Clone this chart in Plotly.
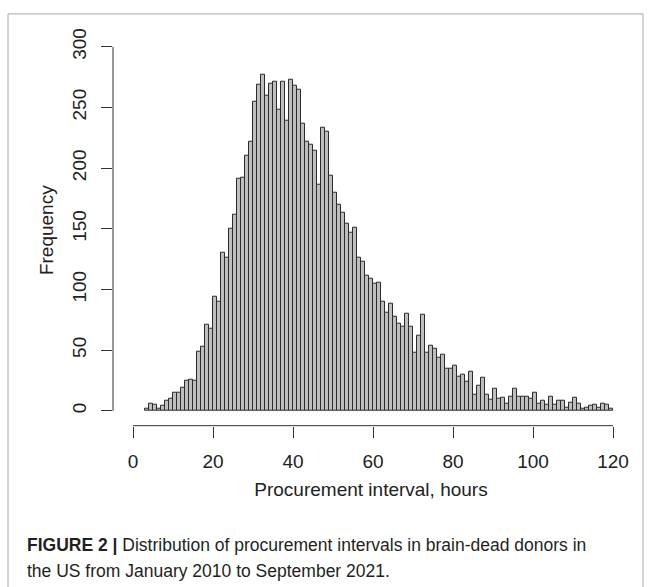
import plotly.graph_objects as go

# Histogram data: 1-hour bins, bin start hours and frequencies
bin_start = list(range(3, 120))
freq = [2, 6, 5, 2, 4, 8, 10, 15, 15, 19, 25, 26, 25, 49, 53, 71, 68, 94, 90, 130,
        126, 150, 162, 191, 192, 210, 222, 255, 269, 277, 260, 270, 271, 248, 271, 239, 273, 268, 265, 237,
        222, 219, 214, 186, 233, 230, 194, 180, 170, 163, 154, 147, 151, 126, 123, 111, 109, 105, 106, 90,
        81, 88, 78, 72, 69, 80, 69, 48, 62, 79, 48, 54, 51, 44, 46, 35, 35, 37, 28, 30,
        24, 32, 13, 21, 27, 13, 9, 18, 10, 11, 6, 12, 18, 12, 12, 12, 10, 15, 6, 8,
        5, 12, 5, 8, 8, 3, 7, 11, 6, 2, 3, 4, 5, 3, 6, 5, 2]
x_ticks = [0, 20, 40, 60, 80, 100, 120]
y_ticks = [0, 50, 100, 150, 200, 250, 300]

W, H = 652, 587
left_px, right_px, top_px, bottom_px = 113, 629, 29, 424
FONT = "Liberation Sans, Arial, Helvetica, sans-serif"
TXT = "#222222"

fig = go.Figure()
fig.add_trace(go.Bar(
    x=bin_start, y=freq, width=1, offset=0,
    marker=dict(color="#bebebe", line=dict(color="#2b2b2b", width=1)),
    hoverinfo="x+y", showlegend=False,
))

fig.update_layout(
    width=W, height=H,
    margin=dict(l=0, r=0, t=0, b=0),
    paper_bgcolor="white", plot_bgcolor="white",
    bargap=0,
    font=dict(family=FONT, color=TXT, size=19),
    xaxis=dict(
        domain=[left_px / W, right_px / W],
        range=[-5, 124],
        tickvals=x_ticks, ticks="outside", ticklen=11, tickwidth=1, tickcolor="#333333",
        ticklabelstandoff=8,
        showgrid=False, zeroline=False, showline=False,
        tickfont=dict(size=19, family=FONT, color=TXT),
        title=dict(text="Procurement interval, hours", font=dict(size=19, family=FONT, color=TXT), standoff=11),
        anchor="y",
    ),
    yaxis=dict(
        domain=[1 - bottom_px / H, 1 - top_px / H],
        range=[-12.2, 310],
        tickvals=y_ticks, ticks="outside", ticklen=11, tickwidth=1, tickcolor="#333333",
        tickangle=-90, ticklabelstandoff=7,
        showgrid=False, zeroline=False, showline=False,
        tickfont=dict(size=19, family=FONT, color=TXT),
        title=dict(text="Frequency", font=dict(size=19, family=FONT, color=TXT), standoff=10),
        anchor="x",
    ),
    shapes=[
        # x axis line (0 to 120)
        dict(type="line", xref="x", yref="paper", x0=0, x1=120,
             y0=1 - bottom_px / H, y1=1 - bottom_px / H, line=dict(color="#333333", width=1)),
        # y axis line (0 to 300)
        dict(type="line", xref="paper", yref="y", x0=left_px / W, x1=left_px / W,
             y0=0, y1=300, line=dict(color="#333333", width=1)),
        # figure frame
        dict(type="rect", xref="paper", yref="paper", x0=8 / W, x1=643 / W, y0=-0.05, y1=1 - 8 / H,
             line=dict(color="#a8a8a8", width=1), layer="below"),
    ],
    annotations=[
        dict(xref="paper", yref="paper", x=25 / W, y=1 - 545 / H, xanchor="left", yanchor="middle",
             showarrow=False, align="left",
             text="<b>FIGURE 2 |</b> Distribution of procurement intervals in brain-dead donors in",
             font=dict(size=17.5, family=FONT, color="#231f20")),
        dict(xref="paper", yref="paper", x=25 / W, y=1 - 571 / H, xanchor="left", yanchor="middle",
             showarrow=False, align="left",
             text="the US from January 2010 to September 2021.",
             font=dict(size=17.5, family=FONT, color="#231f20")),
    ],
)

fig.write_html("out.html")
